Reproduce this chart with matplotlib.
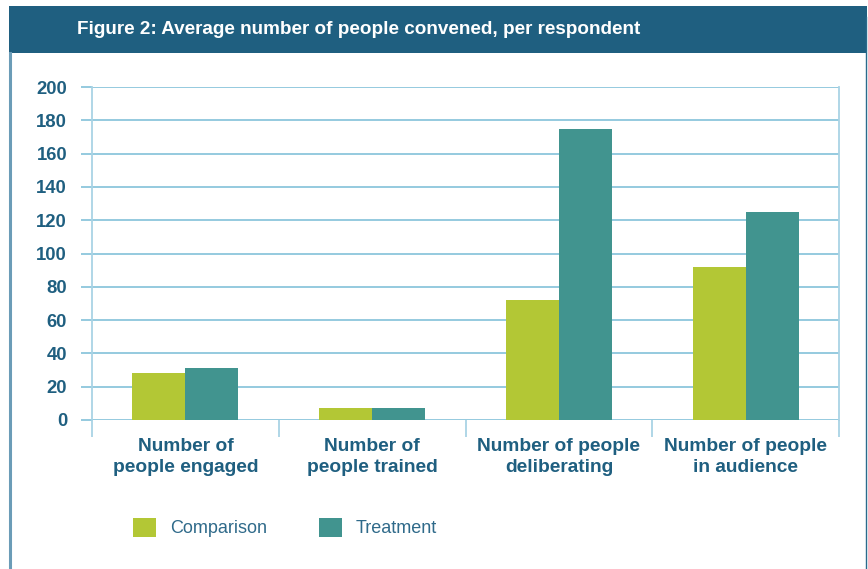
import matplotlib
matplotlib.use("Agg")
import matplotlib.pyplot as plt
from matplotlib.patches import Rectangle, Patch
from matplotlib.lines import Line2D
import numpy as np

categories = ["Number of\npeople engaged", "Number of\npeople trained",
              "Number of people\ndeliberating", "Number of people\nin audience"]
comparison = [28, 7, 72, 92]
treatment = [31, 7, 175, 125]
yticks = [0, 20, 40, 60, 80, 100, 120, 140, 160, 180, 200]
title = "Figure 2: Average number of people convened, per respondent"

C_COMP = "#b3c735"
C_TREAT = "#41948f"
C_HEAD = "#1f5f80"
C_TEXT = "#1f5f80"
C_GRID = "#8cc6dc"

W, H = 868, 569
fig = plt.figure(figsize=(W / 100, H / 100), dpi=100)
fig.patch.set_facecolor("white")

# header band
fig.patches.append(Rectangle((9 / W, 1 - 53 / H), (867 - 9) / W, 47 / H,
                             transform=fig.transFigure, facecolor=C_HEAD,
                             edgecolor="none", zorder=0))
fig.text(77 / W, 1 - 29.5 / H, title, color="white", fontsize=13.6,
         fontweight="bold", family="Liberation Sans",
         va="center", ha="left")
# frame borders
fig.lines.append(Line2D([10 / W, 10 / W], [0, 1 - 53 / H], transform=fig.transFigure,
                        color="#6b9cb7", lw=2.2))
fig.lines.append(Line2D([866 / W, 866 / W], [0, 1 - 17 / H], transform=fig.transFigure,
                        color="#2a6a8c", lw=1.0))

ax = fig.add_axes([92 / W, 1 - 420 / H, (839 - 92) / W, (420 - 87) / H])
x = np.arange(len(categories))
bw = 0.284
ax.bar(x - bw / 2, comparison, bw, color=C_COMP, zorder=3, label="Comparison")
ax.bar(x + bw / 2, treatment, bw, color=C_TREAT, zorder=3, label="Treatment")

ax.set_xlim(-0.5, len(categories) - 0.5)
ax.set_ylim(0, 200)
ax.set_yticks(yticks)
ax.set_yticklabels([str(v) for v in yticks], fontsize=13.3, fontweight="bold",
                   color=C_TEXT, family="Liberation Sans")
ax.yaxis.grid(True, color=C_GRID, lw=1.3, zorder=1)
ax.set_axisbelow(True)
ax.tick_params(axis="y", length=8, width=1.3, color=C_GRID, pad=10)

ax.set_xticks(x)
ax.set_xticklabels(categories, fontsize=13.8, fontweight="bold", color=C_TEXT,
                   family="Liberation Sans", linespacing=1.3)
ax.tick_params(axis="x", which="major", length=0, pad=13)
ax.set_xticks(np.arange(-0.5, len(categories), 1.0), minor=True)
ax.tick_params(axis="x", which="minor", length=12, width=1.3, color="#a9d3e5",
               direction="out")

for s in ["top", "bottom"]:
    ax.spines[s].set_visible(False)
for s in ["left", "right"]:
    ax.spines[s].set_color("#a9d3e5")
    ax.spines[s].set_linewidth(1.3)

handles = [Patch(facecolor=C_COMP, label="Comparison"),
           Patch(facecolor=C_TREAT, label="Treatment")]
fig.legend(handles=handles, loc="center left",
           bbox_to_anchor=(133 / W, 1 - 527.5 / H), ncol=2, frameon=False,
           prop={"family": "Liberation Sans", "size": 13},
           labelcolor="#2f6a8a", handlelength=1.27, handleheight=1.27,
           handletextpad=0.77, columnspacing=2.9, borderpad=0, borderaxespad=0)

fig.savefig("out.png", dpi=100, facecolor="white")
